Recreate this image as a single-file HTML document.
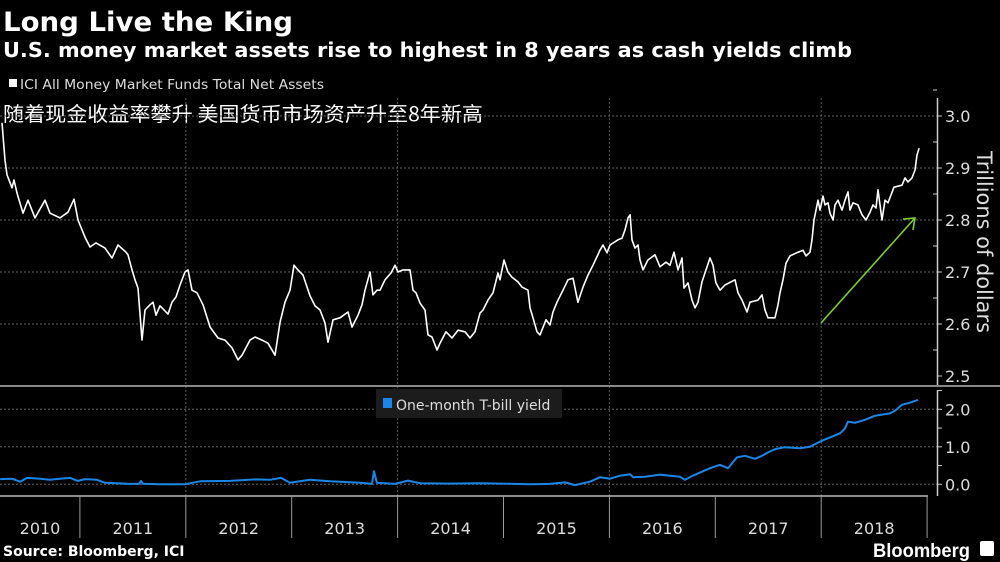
<!DOCTYPE html>
<html><head><meta charset="utf-8">
<style>
body{margin:0;background:#000;width:1000px;height:562px;overflow:hidden;font-family:"Liberation Sans","Noto Sans CJK SC",sans-serif;}
svg{display:block}
text{font-family:"DejaVu Sans","Liberation Sans","Noto Sans CJK SC",sans-serif;}
</style></head><body>
<svg id="chart" width="1000" height="562" viewBox="0 0 1000 562">
<text x="3" y="31" fill="#fff" font-size="27" font-weight="bold" textLength="290" lengthAdjust="spacingAndGlyphs">Long Live the King</text>
<text x="3" y="57" fill="#fff" font-size="20" font-weight="bold" textLength="849" lengthAdjust="spacingAndGlyphs">U.S. money market assets rise to highest in 8 years as cash yields climb</text>
<rect x="9" y="79" width="8" height="8" fill="#fff"/>
<text x="20" y="89" fill="#ddd" font-size="13" textLength="304" lengthAdjust="spacingAndGlyphs">ICI All Money Market Funds Total Net Assets</text>
<text x="3" y="121" fill="#fff" font-size="20" style="font-family:'Noto Sans CJK SC',sans-serif" textLength="480" lengthAdjust="spacingAndGlyphs">随着现金收益率攀升 美国货币市场资产升至8年新高</text>
<g id="topg"></g>
<g id="botg"></g>
<g id="xaxis"></g>
<text x="3" y="556" fill="#fff" font-size="14" font-weight="bold">Source: Bloomberg, ICI</text>
<text x="873" y="557" fill="#fff" font-size="19" font-weight="bold" textLength="97" lengthAdjust="spacingAndGlyphs" style="font-family:'Liberation Sans',sans-serif">Bloomberg</text>
<rect x="980" y="541" width="14" height="15" rx="2" fill="#fff"/>
</svg>
<script>
// Top series: years since 2010, value (trillions $)
const assetT=[0.264,0.293,0.312,0.359,0.378,0.406,0.463,0.510,0.576,0.670,0.718,0.812,0.888,0.944,0.982,1.048,1.095,1.152,1.237,1.303,1.360,1.435,1.454,1.492,1.520,1.549,1.586,1.615,1.662,1.690,1.719,1.756,1.832,1.870,1.907,1.945,1.992,2.021,2.059,2.106,2.162,2.229,2.304,2.370,2.436,2.493,2.531,2.606,2.653,2.720,2.776,2.842,2.890,2.937,2.984,3.022,3.059,3.107,3.173,3.220,3.267,3.314,3.343,3.390,3.456,3.532,3.569,3.626,3.664,3.692,3.739,3.768,3.805,3.834,3.881,3.938,3.975,4.004,4.051,4.117,4.145,4.174,4.212,4.259,4.287,4.325,4.372,4.400,4.457,4.514,4.570,4.636,4.684,4.731,4.778,4.806,4.854,4.901,4.948,4.967,5.005,5.042,5.080,5.137,5.175,5.231,5.250,5.279,5.316,5.345,5.401,5.439,5.467,5.505,5.562,5.609,5.656,5.703,5.751,5.798,5.845,5.911,5.940,5.977,6.006,6.081,6.119,6.147,6.176,6.195,6.213,6.242,6.270,6.289,6.317,6.364,6.431,6.478,6.534,6.572,6.610,6.648,6.686,6.704,6.742,6.780,6.808,6.837,6.874,6.912,6.950,6.978,7.006,7.044,7.092,7.186,7.214,7.252,7.299,7.328,7.403,7.441,7.469,7.498,7.564,7.592,7.611,7.639,7.668,7.705,7.781,7.828,7.856,7.894,7.913,7.932,7.951,7.970,7.989,8.017,8.036,8.064,8.083,8.112,8.130,8.159,8.196,8.225,8.253,8.272,8.300,8.347,8.385,8.423,8.461,8.489,8.517,8.536,8.555,8.574,8.602,8.631,8.659,8.687,8.725,8.763,8.791,8.820,8.857,8.886,8.905,8.924];
const assetV=[2.987,2.915,2.887,2.862,2.877,2.852,2.813,2.838,2.804,2.838,2.813,2.804,2.815,2.840,2.800,2.767,2.748,2.756,2.746,2.727,2.752,2.738,2.733,2.704,2.685,2.669,2.569,2.627,2.637,2.642,2.617,2.635,2.619,2.642,2.652,2.675,2.700,2.704,2.665,2.660,2.637,2.594,2.573,2.569,2.554,2.531,2.540,2.569,2.575,2.569,2.563,2.540,2.604,2.642,2.665,2.713,2.704,2.694,2.654,2.635,2.627,2.602,2.565,2.608,2.612,2.623,2.594,2.617,2.637,2.665,2.700,2.656,2.665,2.665,2.685,2.698,2.713,2.700,2.704,2.704,2.665,2.660,2.640,2.627,2.579,2.575,2.550,2.563,2.585,2.573,2.588,2.585,2.573,2.585,2.621,2.627,2.646,2.660,2.698,2.685,2.723,2.700,2.690,2.681,2.671,2.665,2.631,2.612,2.585,2.579,2.608,2.598,2.623,2.642,2.665,2.685,2.688,2.642,2.671,2.694,2.713,2.742,2.752,2.737,2.752,2.762,2.765,2.781,2.804,2.810,2.762,2.746,2.752,2.723,2.704,2.723,2.733,2.710,2.719,2.713,2.738,2.704,2.727,2.669,2.679,2.646,2.631,2.642,2.681,2.704,2.727,2.713,2.679,2.665,2.675,2.685,2.660,2.646,2.623,2.642,2.646,2.656,2.627,2.612,2.612,2.637,2.660,2.685,2.717,2.731,2.738,2.742,2.731,2.738,2.762,2.800,2.819,2.838,2.819,2.846,2.829,2.833,2.813,2.800,2.829,2.838,2.819,2.838,2.854,2.819,2.833,2.829,2.810,2.800,2.815,2.829,2.823,2.858,2.829,2.800,2.838,2.833,2.848,2.863,2.865,2.867,2.881,2.873,2.881,2.896,2.925,2.938];
// Bottom series: one-month T-bill yield (%)
const billT=[0.246,0.359,0.434,0.500,0.623,0.718,0.812,0.907,0.982,1.048,1.161,1.237,1.473,1.558,1.577,1.596,1.615,1.756,1.992,2.134,2.417,2.653,2.795,2.899,2.984,3.173,3.362,3.645,3.758,3.777,3.805,3.975,4.098,4.212,4.495,4.778,4.967,5.250,5.439,5.581,5.675,5.817,5.911,6.006,6.100,6.195,6.223,6.336,6.478,6.667,6.714,6.780,6.950,7.044,7.120,7.205,7.280,7.375,7.441,7.498,7.564,7.658,7.800,7.894,7.989,8.083,8.178,8.225,8.253,8.319,8.414,8.508,8.650,8.697,8.763,8.839,8.914];
const billV=[0.14,0.15,0.07,0.17,0.15,0.12,0.15,0.17,0.09,0.14,0.12,0.04,0.01,0.01,0.09,0.01,0.01,0.00,0.00,0.08,0.09,0.13,0.12,0.17,0.04,0.12,0.08,0.04,0.01,0.35,0.04,0.01,0.10,0.03,0.02,0.03,0.02,0.00,0.01,0.05,-0.02,0.07,0.19,0.15,0.23,0.27,0.19,0.20,0.26,0.20,0.12,0.22,0.43,0.52,0.43,0.72,0.76,0.68,0.76,0.85,0.94,0.99,0.96,1.00,1.14,1.25,1.36,1.49,1.67,1.64,1.72,1.83,1.89,1.96,2.12,2.18,2.25];
const topTicks=[2.5,2.6,2.7,2.8,2.9,3.0];
const botTicks=[0,1,2];
const years=[2010,2011,2012,2013,2014,2015,2016,2017,2018];

const NS='http://www.w3.org/2000/svg';
function mk(tag,attrs,parent){const e=document.createElementNS(NS,tag);for(const k in attrs)e.setAttribute(k,attrs[k]);parent.appendChild(e);return e;}
const X=t=>-26+t*105.9;            // t = years since 2010
const YT=v=>116+(3.0-v)*520;
const YB=v=>484.3-v*37.5;
const topG=document.getElementById('topg'),botG=document.getElementById('botg'),xa=document.getElementById('xaxis');

topTicks.forEach(v=>{
  if(v>2.5){const g=mk('line',{x1:0,x2:937,y1:YT(v),y2:YT(v),stroke:'#666','stroke-dasharray':'2,2','stroke-width':1},topG);
  
  }
  const tk=mk('line',{x1:937,x2:942,y1:YT(v),y2:YT(v),stroke:'#ccc'},topG);
  
  
  const m=mk('line',{x1:933,x2:937,y1:YT(v+0.05),y2:YT(v+0.05),stroke:'#ccc'},topG);
  
  
  const tx=mk('text',{x:945,y:YT(v)+6,fill:'#ddd','font-size':16},topG);tx.textContent=v.toFixed(1);
  
  
});
[2,4,6,8].forEach(t=>{const g=mk('line',{x1:X(t),x2:X(t),y1:98,y2:496,stroke:'#555','stroke-dasharray':'2,2'},topG);
  
  });
const ax=mk('line',{x1:937.5,x2:937.5,y1:98,y2:385,stroke:'#ccc','stroke-width':1.5},topG);


const yt=mk('text',{x:0,y:0,fill:'#ddd','font-size':21,transform:'translate(977,242) rotate(90)','text-anchor':'middle',textLength:182,lengthAdjust:'spacingAndGlyphs'},topG);
yt.textContent='Trillions of dollars';


const p1=mk('polyline',{points:assetT.map((t,i)=>X(t).toFixed(1)+','+YT(assetV[i]).toFixed(1)).join(' '),fill:'none',stroke:'#fff','stroke-width':1.6,'stroke-linejoin':'round'},topG);


const ar=mk('line',{x1:821,y1:323,x2:915,y2:218,stroke:'#7fd02a','stroke-width':1.6},topG);


const ah=mk('polyline',{points:'903,219 915,218 913,230',fill:'none',stroke:'#7fd02a','stroke-width':1.6},topG);


const sep=mk('rect',{x:0,y:385,width:1000,height:2,fill:'#888'},topG);



botTicks.forEach(v=>{
  const g=mk('line',{x1:0,x2:937,y1:YB(v),y2:YB(v),stroke:'#666','stroke-dasharray':'2,2'},botG);
  
  
  const tk=mk('line',{x1:937,x2:942,y1:YB(v),y2:YB(v),stroke:'#ccc'},botG);
  
  
  const m=mk('line',{x1:937,x2:942,y1:YB(v+0.5),y2:YB(v+0.5),stroke:'#ccc'},botG);
  
  
  const tx=mk('text',{x:945,y:YB(v)+6,fill:'#ddd','font-size':16},botG);tx.textContent=v.toFixed(1);
  
  
});
const ax2=mk('line',{x1:937.5,x2:937.5,y1:390,y2:496,stroke:'#ccc','stroke-width':1.5},botG);


const lb=mk('rect',{x:376,y:389,width:186,height:29,fill:'#1c1c1c'},botG);


const ls=mk('rect',{x:383,y:398,width:9,height:10,fill:'#1a86e8'},botG);


const lt=mk('text',{x:396,y:410,fill:'#ddd','font-size':14},botG);lt.textContent='One-month T-bill yield';


const p2=mk('polyline',{points:billT.map((t,i)=>X(t).toFixed(1)+','+YB(billV[i]).toFixed(1)).join(' '),fill:'none',stroke:'#1a86e8','stroke-width':2,'stroke-linejoin':'round'},botG);



const xl=mk('line',{x1:0,x2:928,y1:496,y2:496,stroke:'#bbb','stroke-width':1.5},xa);


years.forEach((y,i)=>{
  const t=i+1;
  const tk=mk('line',{x1:X(t),x2:X(t),y1:496,y2:538,stroke:'#999'},xa);
  
  
  const tx=mk('text',{x:Math.max(X(i+0.5),40),y:534,fill:'#ddd','font-size':16,'text-anchor':'middle'},xa);
  tx.textContent=y;
  
  
});
</script>
</body></html>
